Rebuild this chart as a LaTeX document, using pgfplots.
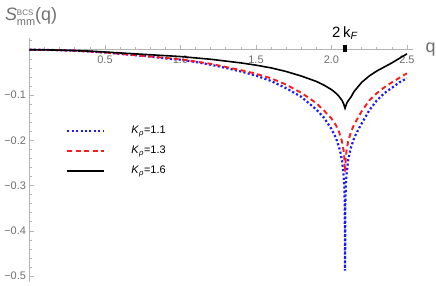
\documentclass[border=0pt]{standalone}
\usepackage{fontspec}
\setmainfont{Liberation Sans}
\usepackage{pgfplots}
\pgfplotsset{compat=1.18}
\definecolor{axgray}{HTML}{B4B4B4}
\definecolor{lblgray}{HTML}{707070}
\definecolor{myblue}{HTML}{1A1AFF}
\definecolor{myred}{HTML}{FF1A1A}
\begin{document}
\begin{tikzpicture}
\begin{axis}[
  scale only axis, width=383.5bp, height=244bp,
  xmin=0, xmax=2.54, ymin=-0.513, ymax=0.026,
  axis lines=middle,
  axis line style={draw=axgray, line width=0.6bp, -},
  xtick={0.5,1,1.5,2,2.5}, xticklabels={0.5,1.0,1.5,2.0,2.5},
  ytick={-0.5,-0.4,-0.3,-0.2,-0.1}, yticklabels={−0.5,−0.4,−0.3,−0.2,−0.1},
  minor xtick={0.1,0.2,0.3,0.4,0.6,0.7,0.8,0.9,1.1,1.2,1.3,1.4,1.6,1.7,1.8,1.9,2.1,2.2,2.3,2.4},
  minor ytick={-0.48,-0.46,-0.44,-0.42,-0.38,-0.36,-0.34,-0.32,-0.28,-0.26,-0.24,-0.22,-0.18,-0.16,-0.14,-0.12,-0.08,-0.06,-0.04,-0.02,0.02},
  tick align=inside,
  major tick length=5bp, minor tick length=3bp,
  every tick/.style={axgray, line width=0.6bp},
  tick label style={font=\fontsize{11}{13}\selectfont, text=lblgray},
  xticklabel style={yshift=-2.5bp},
  legend style={draw=none, fill=none, at={(axis cs:0.222,-0.163)}, anchor=north west,
    font=\fontsize{11}{13}\selectfont, column sep=26bp, row sep=9bp,
    nodes={inner sep=0pt, text height=8bp, text depth=3bp}},
  legend cell align=left,
  legend image code/.code={\draw[#1] (0bp,0bp) -- (37bp,0bp);},
  clip=false,
]
\addplot[myblue, line width=2.2bp, dash pattern=on 2.1bp off 2.3bp] coordinates {
(0,0) (0.1,-0.0002) (0.2,-0.001) (0.3,-0.002) (0.4,-0.004) (0.5,-0.006) (0.6,-0.009) (0.7,-0.012) (0.8,-0.015) (0.9,-0.019) (1.0,-0.022) (1.1,-0.027) (1.2,-0.033) (1.3,-0.040) (1.4,-0.048) (1.5,-0.057) (1.6,-0.069) (1.7,-0.085) (1.8,-0.104) (1.9,-0.132) (1.95,-0.150) (2.0,-0.175) (2.03,-0.195) (2.05,-0.215) (2.06,-0.228) (2.07,-0.245) (2.08,-0.275) (2.085,-0.30) (2.088,-0.34) (2.09,-0.488) (2.092,-0.34) (2.095,-0.30) (2.10,-0.275) (2.11,-0.245) (2.12,-0.228) (2.13,-0.215) (2.15,-0.195) (2.18,-0.175) (2.2,-0.163) (2.25,-0.134) (2.3,-0.112) (2.35,-0.096) (2.4,-0.084) (2.45,-0.072) (2.5,-0.063)
};
\addlegendentry{\textit{K}\textsubscript{\textit{ρ}}=1.1}
\addplot[myred, line width=1.9bp, dash pattern=on 5bp off 3.5bp] coordinates {
(0,0) (0.1,-0.0002) (0.2,-0.001) (0.3,-0.002) (0.4,-0.004) (0.5,-0.006) (0.6,-0.009) (0.7,-0.012) (0.8,-0.015) (0.9,-0.018) (1.0,-0.021) (1.1,-0.026) (1.2,-0.031) (1.3,-0.038) (1.4,-0.045) (1.5,-0.053) (1.6,-0.063) (1.7,-0.077) (1.8,-0.095) (1.9,-0.118) (1.95,-0.134) (2.0,-0.152) (2.03,-0.167) (2.05,-0.181) (2.07,-0.203) (2.08,-0.222) (2.085,-0.238) (2.09,-0.270) (2.095,-0.238) (2.10,-0.222) (2.11,-0.203) (2.13,-0.181) (2.15,-0.165) (2.2,-0.136) (2.25,-0.112) (2.3,-0.096) (2.35,-0.083) (2.4,-0.072) (2.45,-0.062) (2.5,-0.052)
};
\addlegendentry{\textit{K}\textsubscript{\textit{ρ}}=1.3}
\addplot[black, line width=1.6bp] coordinates {
(0,0) (0.1,-0.0002) (0.2,-0.0008) (0.3,-0.0018) (0.4,-0.003) (0.5,-0.005) (0.6,-0.007) (0.7,-0.009) (0.8,-0.011) (0.9,-0.013) (1.0,-0.015) (1.1,-0.018) (1.2,-0.021) (1.3,-0.025) (1.4,-0.029) (1.5,-0.034) (1.6,-0.040) (1.7,-0.048) (1.8,-0.058) (1.9,-0.070) (1.95,-0.078) (2.0,-0.088) (2.03,-0.096) (2.05,-0.103) (2.07,-0.112) (2.08,-0.119) (2.09,-0.129) (2.10,-0.119) (2.11,-0.113) (2.13,-0.104) (2.15,-0.092) (2.2,-0.072) (2.25,-0.058) (2.3,-0.047) (2.35,-0.038) (2.4,-0.029) (2.45,-0.019) (2.5,-0.009)
};
\addlegendentry{\textit{K}\textsubscript{\textit{ρ}}=1.6}
\draw[black, line width=3.6bp] (axis cs:2.09,0.011) -- (axis cs:2.09,-0.005);
\node[anchor=base, font=\fontsize{15}{17}\selectfont] at (axis cs:2.09,0.028) {2\,k\textsubscript{\textit{F}}};
\node[anchor=west, font=\fontsize{18}{20}\selectfont, text=lblgray, xshift=9bp] at (axis cs:2.54,0) {q};
\node[anchor=base west, font=\fontsize{18}{20}\selectfont, text=lblgray, xshift=-28bp, yshift=17bp] at (rel axis cs:0,1)
  {\textit{S}\raisebox{-4.5bp}{\fontsize{11}{11}\selectfont\shortstack[l]{\fontsize{8}{8}\selectfont BCS\\[1bp] mm}}(q)};
\coordinate (sw) at (rel axis cs:0,0);
\coordinate (ne) at (rel axis cs:1,1);
\end{axis}
\pgfresetboundingbox
\path[use as bounding box] ([shift={(-29.5bp,-4bp)}]sw) rectangle ([shift={(23bp,38bp)}]ne);
\end{tikzpicture}
\end{document}
